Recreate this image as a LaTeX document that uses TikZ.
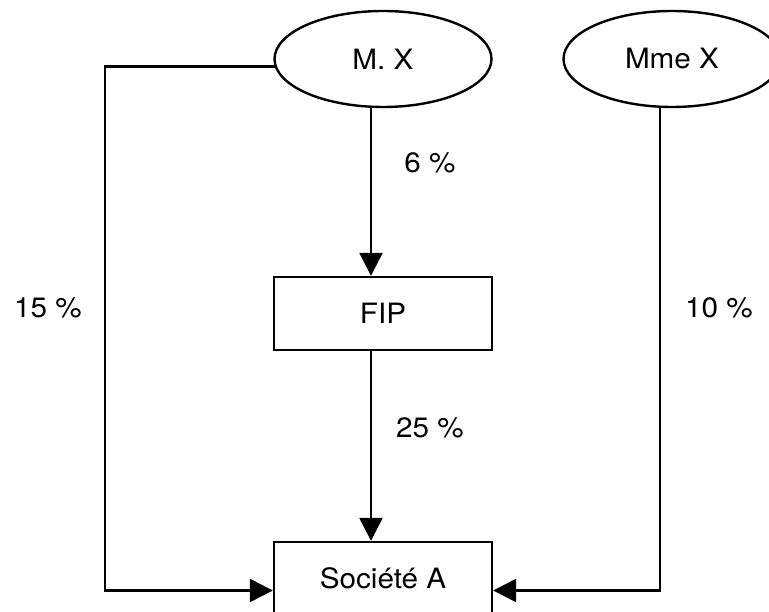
\documentclass[tikz,border=0pt]{standalone}
\usepackage{fontspec}
\setmainfont{TeX Gyre Heros}[FakeStretch=1.06]
\usetikzlibrary{shapes.geometric,arrows.meta}
\begin{document}
\begin{tikzpicture}[x=1pt,y=-1pt,
  every node/.style={font=\fontsize{28}{31}\selectfont},
  lw/.style={line width=2.4pt},
  oval/.style={lw,draw,ellipse,minimum width=217pt,minimum height=96pt,inner sep=0pt},
  boxn/.style={lw,draw,rectangle,minimum width=218pt,minimum height=73pt,inner sep=0pt},
  arr/.style={lw,-{Triangle[length=23pt,width=23pt]}},
  lbl/.style={inner sep=0pt}]
\useasboundingbox (0,0) rectangle (769,612);
\node[oval] (mx) at (383,59) {M. X};
\node[oval] (mmx) at (672,59) {Mme X};
\node[boxn] (fip) at (383,313.5) {FIP};
\node[boxn] (soc) at (383,578.5) {Société A};
\draw[arr] ([xshift=-12pt]mx.south) -- ([xshift=-12pt]fip.north);
\draw[arr] ([xshift=-12pt]fip.south) -- ([xshift=-12pt]soc.north);
\draw[arr] (mx.184) -| (105,300) |- ([yshift=-12pt]soc.west);
\draw[arr] ([xshift=-12pt]mmx.south) |- ([yshift=-12pt]soc.east);
\node[lbl] (l6) at (430,163) {6 \%};
\node[lbl] (l25) at (430,428) {25 \%};
\node[lbl] (l15) at (48,308) {15 \%};
\node[lbl] (l10) at (719,308) {10 \%};
\end{tikzpicture}
\end{document}
